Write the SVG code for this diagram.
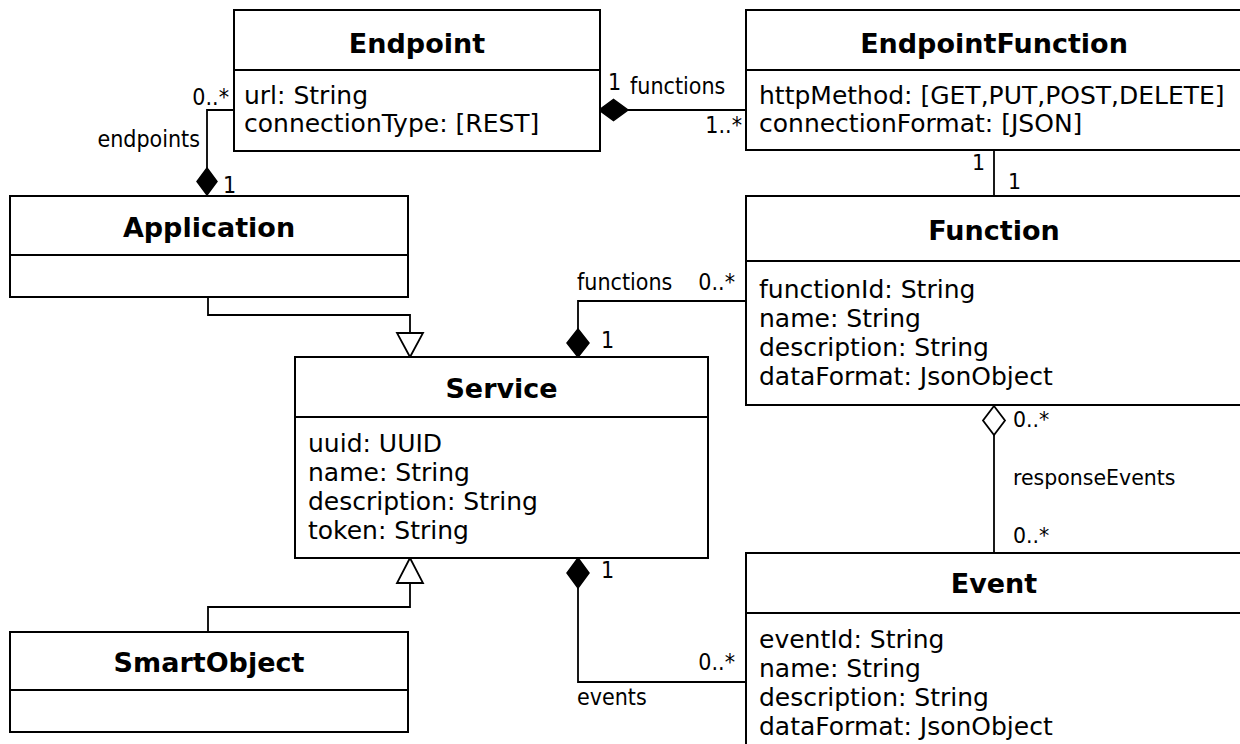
<svg xmlns="http://www.w3.org/2000/svg" width="1240" height="744" viewBox="0 0 1240 744">
  <style>
    .box { fill: #ffffff; stroke: #000000; stroke-width: 2; }
    .div { stroke: #000000; stroke-width: 2; }
    .title { font-family: "DejaVu Sans", Verdana, sans-serif; font-weight: bold; font-size: 27px; text-anchor: middle; fill: #000; }
    .attr { font-family: "DejaVu Sans", Verdana, sans-serif; font-size: 25px; fill: #000; }
    .lbl { font-family: "DejaVu Sans Condensed", "DejaVu Sans", sans-serif; font-size: 23px; fill: #000; }
    .lblr { font-family: "DejaVu Sans", sans-serif; font-size: 20.5px; fill: #000; }
    .end { text-anchor: end; }
    .conn { fill: none; stroke: #000000; stroke-width: 1.8; }
    .filled { fill: #000000; stroke: #000000; stroke-width: 1.5; }
    .hollow { fill: #ffffff; stroke: #000000; stroke-width: 1.8; }
  </style>
  <rect width="1240" height="744" fill="#ffffff"/>

  <!-- connectors -->
  <g id="connectors">
    <!-- Endpoint <>- EndpointFunction -->
    <path class="conn" d="M628,110 H746"/>
    <polygon class="filled" points="599,110 613.5,99.5 628,110 613.5,120.5"/>
    <!-- Application <>- Endpoint -->
    <path class="conn" d="M234,110 H207 V168"/>
    <polygon class="filled" points="207,168 217,181.5 207,195 197,181.5"/>
    <!-- EndpointFunction - Function -->
    <path class="conn" d="M994,150 V196"/>
    <!-- Application -|> Service -->
    <path class="conn" d="M208,297 V315 H410 V333"/>
    <polygon class="hollow" points="410,357 397,333 423,333"/>
    <!-- SmartObject -|> Service -->
    <path class="conn" d="M208,632 V607 H410 V583"/>
    <polygon class="hollow" points="410,558 397,583 423,583"/>
    <!-- Service <>- Function -->
    <path class="conn" d="M578,329 V301 H746"/>
    <polygon class="filled" points="578,329 589,343 578,357 567,343"/>
    <!-- Service <>- Event -->
    <path class="conn" d="M578,588 V682 H746"/>
    <polygon class="filled" points="578,558 589,573 578,588 567,573"/>
    <!-- Function <>- Event (aggregation) -->
    <path class="conn" d="M994,435 V553"/>
    <polygon class="hollow" points="994,406 1005,420.5 994,435 983,420.5"/>

    <!-- role names and multiplicities -->
    <text class="lbl" x="608" y="90">1</text>
    <text class="lbl" x="630" y="94">functions</text>
    <text class="lbl end" x="742" y="133">1..*</text>
    <text class="lbl end" x="229" y="105">0..*</text>
    <text class="lbl end" x="200" y="147">endpoints</text>
    <text class="lbl" x="223" y="193">1</text>
    <text class="lblr" x="972" y="170">1</text>
    <text class="lblr" x="1008" y="189">1</text>
    <text class="lbl" x="577" y="290">functions</text>
    <text class="lbl end" x="735" y="290">0..*</text>
    <text class="lbl" x="601" y="348">1</text>
    <text class="lbl" x="601" y="578">1</text>
    <text class="lbl end" x="735" y="670">0..*</text>
    <text class="lbl" x="577" y="705">events</text>
    <text class="lblr" x="1013" y="427">0..*</text>
    <text class="lblr" x="1013" y="485">responseEvents</text>
    <text class="lblr" x="1013" y="543">0..*</text>
  </g>

  <g id="Endpoint">
    <rect class="box" x="234" y="10" width="366" height="141"/>
    <line class="div" x1="234" y1="70" x2="600" y2="70"/>
    <text class="title" x="417" y="53">Endpoint</text>
    <text class="attr" x="244" y="104">url: String</text>
    <text class="attr" x="244" y="132">connectionType: [REST]</text>
  </g>

  <g id="EndpointFunction">
    <rect class="box" x="746" y="10" width="497" height="140"/>
    <line class="div" x1="746" y1="70" x2="1243" y2="70"/>
    <text class="title" x="994" y="53">EndpointFunction</text>
    <text class="attr" x="759" y="104">httpMethod: [GET,PUT,POST,DELETE]</text>
    <text class="attr" x="759" y="132">connectionFormat: [JSON]</text>
  </g>

  <g id="Application">
    <rect class="box" x="10" y="196" width="398" height="101"/>
    <line class="div" x1="10" y1="255" x2="408" y2="255"/>
    <text class="title" x="209" y="237">Application</text>
  </g>

  <g id="Function">
    <rect class="box" x="746" y="196" width="497" height="209"/>
    <line class="div" x1="746" y1="261" x2="1243" y2="261"/>
    <text class="title" x="994" y="240">Function</text>
    <text class="attr" x="759" y="298">functionId: String</text>
    <text class="attr" x="759" y="327">name: String</text>
    <text class="attr" x="759" y="356">description: String</text>
    <text class="attr" x="759" y="385">dataFormat: JsonObject</text>
  </g>

  <g id="Service">
    <rect class="box" x="295" y="357" width="413" height="201"/>
    <line class="div" x1="295" y1="417" x2="708" y2="417"/>
    <text class="title" x="501.5" y="398">Service</text>
    <text class="attr" x="308" y="452">uuid: UUID</text>
    <text class="attr" x="308" y="481">name: String</text>
    <text class="attr" x="308" y="510">description: String</text>
    <text class="attr" x="308" y="539">token: String</text>
  </g>

  <g id="Event">
    <rect class="box" x="746" y="553" width="497" height="200"/>
    <line class="div" x1="746" y1="613" x2="1243" y2="613"/>
    <text class="title" x="994" y="593">Event</text>
    <text class="attr" x="759" y="648">eventId: String</text>
    <text class="attr" x="759" y="677">name: String</text>
    <text class="attr" x="759" y="706">description: String</text>
    <text class="attr" x="759" y="735">dataFormat: JsonObject</text>
  </g>

  <g id="SmartObject">
    <rect class="box" x="10" y="632" width="398" height="100"/>
    <line class="div" x1="10" y1="690" x2="408" y2="690"/>
    <text class="title" x="209" y="672">SmartObject</text>
  </g>
</svg>
